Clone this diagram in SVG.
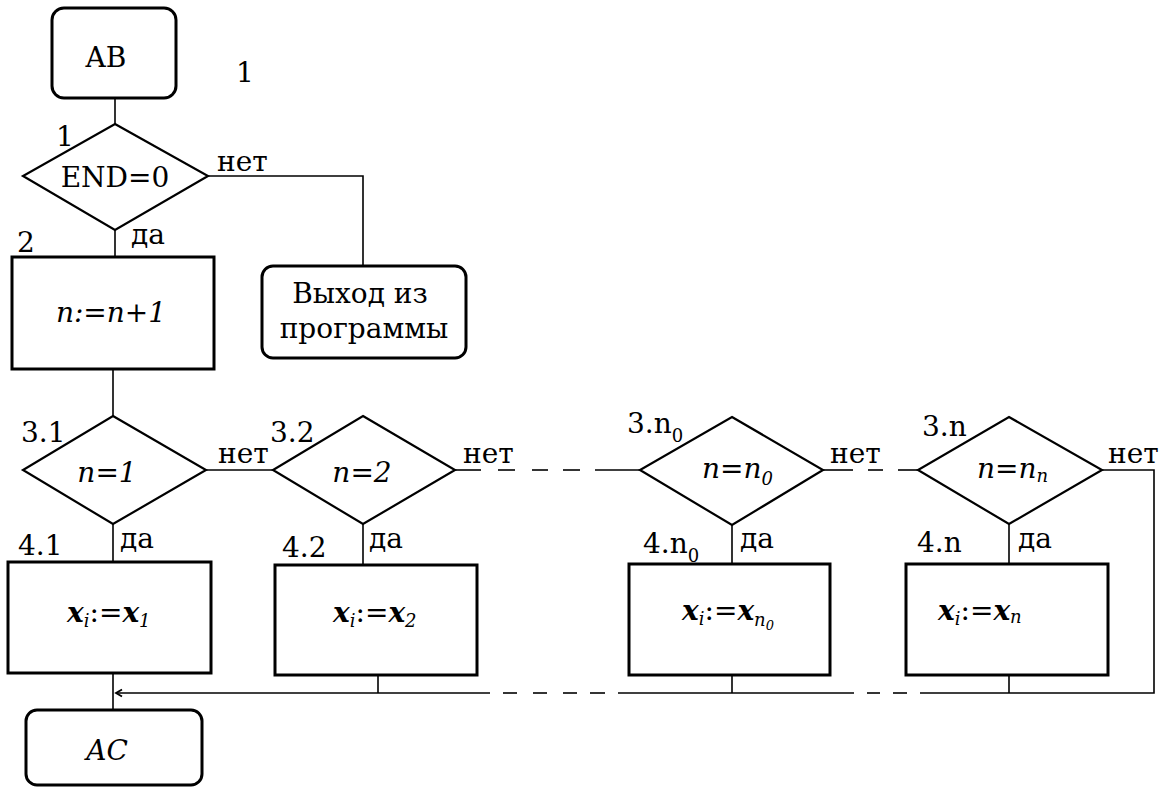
<svg xmlns="http://www.w3.org/2000/svg" width="1168" height="789" viewBox="0 0 1168 789">
<style>
text{font-family:'DejaVu Serif','Liberation Serif',serif;font-size:28px;fill:#000}
.it{font-style:italic}
.bx{font-style:italic;font-weight:bold}
.sub{font-size:18px}
.box{fill:#fff;stroke:#000;stroke-width:3}
.dia{fill:#fff;stroke:#000;stroke-width:2.2}
.ln{fill:none;stroke:#000;stroke-width:1.6}
</style>
<defs>
<marker id="ah" markerWidth="10" markerHeight="10" refX="7" refY="5" orient="auto" markerUnits="userSpaceOnUse">
<path d="M1,1.5 L7,5 L1,8.5" fill="none" stroke="#000" stroke-width="1.8"/>
</marker>
</defs>
<rect width="1168" height="789" fill="#fff"/>
<g id="connectors">
<line class="ln" x1="115" y1="98" x2="115" y2="124"/>
<polyline class="ln" points="208,176 363,176 363,266"/>
<line class="ln" x1="115" y1="230" x2="115" y2="257"/>
<line class="ln" x1="113" y1="369" x2="113" y2="416"/>
<line class="ln" x1="206" y1="470" x2="273" y2="470"/>
<line class="ln" x1="113" y1="524" x2="113" y2="562"/>
<line class="ln" x1="363" y1="524" x2="363" y2="565"/>
<line class="ln" x1="732" y1="525" x2="732" y2="564"/>
<line class="ln" x1="1009" y1="524" x2="1009" y2="564"/>
<line class="ln" x1="455" y1="470" x2="481" y2="470"/>
<line class="ln" x1="498" y1="470" x2="515" y2="470"/>
<line class="ln" x1="532" y1="470" x2="548" y2="470"/>
<line class="ln" x1="563" y1="470" x2="580" y2="470"/>
<line class="ln" x1="595" y1="470" x2="640" y2="470"/>
<line class="ln" x1="823" y1="470" x2="853" y2="470"/>
<line class="ln" x1="868" y1="470" x2="883" y2="470"/>
<line class="ln" x1="898" y1="470" x2="918" y2="470"/>
<polyline class="ln" points="1102,470 1154,470 1154,693 920,693"/>
<line class="ln" x1="893" y1="693" x2="907" y2="693"/>
<line class="ln" x1="867" y1="693" x2="880" y2="693"/>
<line class="ln" x1="618" y1="693" x2="854" y2="693"/>
<line class="ln" x1="590" y1="693" x2="605" y2="693"/>
<line class="ln" x1="563" y1="693" x2="577" y2="693"/>
<line class="ln" x1="533" y1="693" x2="547" y2="693"/>
<line class="ln" x1="503" y1="693" x2="517" y2="693"/>
<line class="ln" x1="490" y1="693" x2="116" y2="693" marker-end="url(#ah)"/>
<line class="ln" x1="1009" y1="675" x2="1009" y2="693"/>
<line class="ln" x1="732" y1="675" x2="732" y2="693"/>
<line class="ln" x1="378" y1="675" x2="378" y2="693"/>
<line class="ln" x1="113" y1="673" x2="113" y2="710"/>
</g>
<g id="node-ab">
<rect class="box" x="52" y="8" width="124" height="90" rx="12"/>
<text x="106" y="67" text-anchor="middle">AB</text>
</g>
<text x="236" y="82">1</text>
<g id="node-1">
<polygon class="dia" points="115,124 208,176 115,230 23,176"/>
<text x="56" y="146">1</text>
<text x="115" y="187" text-anchor="middle">END=0</text>
<text x="217" y="171">нет</text>
<text x="131" y="244">да</text>
</g>
<g id="node-2">
<rect class="box" x="12" y="257" width="202" height="112"/>
<text x="17" y="252">2</text>
<text class="it" x="111" y="322" text-anchor="middle">n:=n+1</text>
</g>
<g id="node-exit">
<rect class="box" x="262" y="266" width="204" height="92" rx="11"/>
<text x="360" y="303" text-anchor="middle">Выход из</text>
<text x="364" y="338" text-anchor="middle">программы</text>
</g>
<g id="node-3-1">
<polygon class="dia" points="113,416 206,470 113,524 23,470"/>
<text x="21" y="442">3.1</text>
<text class="it" x="107" y="482" text-anchor="middle">n=1</text>
<text x="218" y="463">нет</text>
</g>
<g id="node-3-2">
<polygon class="dia" points="363,416 455,470 363,524 273,470"/>
<text x="270" y="442">3.2</text>
<text class="it" x="362" y="482" text-anchor="middle">n=2</text>
<text x="463" y="463">нет</text>
</g>
<g id="node-3-n0">
<polygon class="dia" points="732,417 823,470 732,525 640,470"/>
<text x="627" y="433">3.n<tspan class="sub" dy="9">0</tspan></text>
<text class="it" x="702" y="478">n=n<tspan class="sub" dy="7">0</tspan></text>
<text x="830" y="463">нет</text>
</g>
<g id="node-3-n">
<polygon class="dia" points="1009,417 1102,470 1009,524 918,470"/>
<text x="922" y="436">3.n</text>
<text class="it" x="977" y="478">n=n<tspan class="sub" dy="4">n</tspan></text>
<text x="1108" y="463">нет</text>
</g>
<g id="node-4-1">
<rect class="box" x="8" y="562" width="203" height="111"/>
<text x="18" y="555">4.1</text>
<text x="120" y="548">да</text>
<text x="67" y="622"><tspan class="bx">x</tspan><tspan class="it sub" dy="5">i</tspan><tspan dy="-5">:=</tspan><tspan class="bx">x</tspan><tspan class="it sub" dy="5">1</tspan></text>
</g>
<g id="node-4-2">
<rect class="box" x="275" y="565" width="202" height="110"/>
<text x="282" y="557">4.2</text>
<text x="369" y="548">да</text>
<text x="333" y="622"><tspan class="bx">x</tspan><tspan class="it sub" dy="5">i</tspan><tspan dy="-5">:=</tspan><tspan class="bx">x</tspan><tspan class="it sub" dy="5">2</tspan></text>
</g>
<g id="node-4-n0">
<rect class="box" x="629" y="564" width="201" height="111"/>
<text x="643" y="553">4.n<tspan class="sub" dy="9">0</tspan></text>
<text x="740" y="548">да</text>
<text x="682" y="620"><tspan class="bx">x</tspan><tspan class="it sub" dy="5">i</tspan><tspan dy="-5">:=</tspan><tspan class="bx">x</tspan><tspan class="it sub" dy="6">n</tspan><tspan class="it" font-size="13" dy="4">0</tspan></text>
</g>
<g id="node-4-n">
<rect class="box" x="906" y="564" width="202" height="111"/>
<text x="917" y="552">4.n</text>
<text x="1018" y="548">да</text>
<text x="938" y="620"><tspan class="bx">x</tspan><tspan class="it sub" dy="5">i</tspan><tspan dy="-5">:=</tspan><tspan class="bx">x</tspan><tspan class="it sub" dy="3">n</tspan></text>
</g>
<g id="node-ac">
<rect class="box" x="26" y="710" width="176" height="75" rx="11"/>
<text class="it" x="107" y="760" text-anchor="middle">AC</text>
</g>
</svg>
